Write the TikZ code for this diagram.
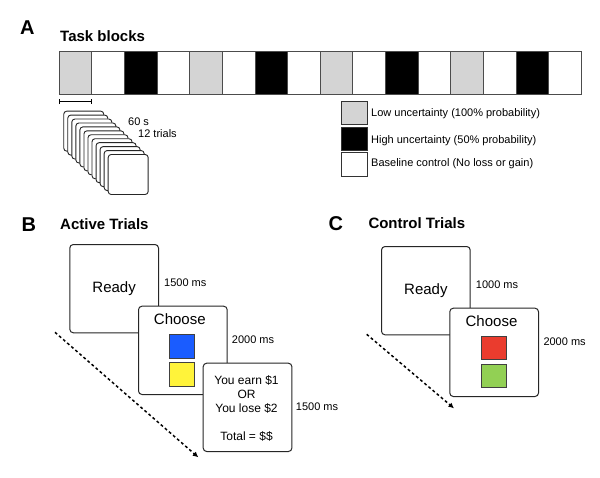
\documentclass[tikz,border=0pt]{standalone}
\usepackage{fontspec}
\setmainfont{Liberation Sans}
\usetikzlibrary{arrows.meta}
\definecolor{lowgray}{RGB}{212,212,212}
\definecolor{sqblue}{RGB}{26,92,255}
\definecolor{sqyellow}{RGB}{255,243,58}
\definecolor{sqred}{RGB}{234,60,46}
\definecolor{sqgreen}{RGB}{146,208,84}
\begin{document}
\begin{tikzpicture}[x=1pt,y=-1pt,
  panellabel/.style={anchor=base west,inner sep=0,font=\fontsize{20}{24}\bfseries\selectfont},
  paneltitle/.style={anchor=base west,inner sep=0,font=\fontsize{15}{18}\bfseries\selectfont},
  small/.style={anchor=west,inner sep=0,font=\fontsize{11}{13}\selectfont},
  blockbox/.style={draw=black!70,line width=0.9pt,anchor=north west,minimum width=32.64pt,minimum height=43.3pt,inner sep=0},
  legbox/.style={draw=black!80,line width=0.9pt,anchor=north west,minimum width=25.5pt,minimum height=23.4pt,inner sep=0},
  card/.style={draw=black!85,line width=0.9pt,rounded corners=3pt,fill=white,anchor=north west,minimum width=40pt,minimum height=40pt,inner sep=0},
  screen/.style={draw=black!85,line width=1pt,rounded corners=3.5pt,fill=white,anchor=north west,minimum width=88.7pt,minimum height=88.3pt,inner sep=0,font=\fontsize{15}{18}\selectfont},
  bigtext/.style={inner sep=0,font=\fontsize{15}{18}\selectfont},
  colsq/.style={draw=black!75,line width=0.8pt,anchor=north west,minimum width=25pt,minimum height=23.2pt,inner sep=0},
  timearrow/.style={line width=1.5pt,dash pattern=on 2.8pt off 2.6pt,-{Latex[length=5.5pt,width=5.5pt]}}
]
\useasboundingbox (0,0) rectangle (600,477);

% ---------- Panel A ----------
\node[panellabel] (labA) at (20,34) {A};
\node[paneltitle] (titA) at (60,41) {Task blocks};

\foreach \i/\c in {0/lowgray,1/white,2/black,3/white,4/lowgray,5/white,6/black,7/white,
                   8/lowgray,9/white,10/black,11/white,12/lowgray,13/white,14/black,15/white}{
  \node[blockbox,fill=\c] (blk\i) at ({58.7+32.64*\i},50.7) {};
}

\coordinate (sbL) at (58.7,101.5);
\coordinate (sbR) at (92,101.5);
\draw[line width=0.9pt,{Bar[width=5pt]}-{Bar[width=5pt]}] (sbL) -- (sbR);

\foreach \i in {0,...,11}{
  \node[card] (card\i) at ({63.3+4.04*\i},{110.7+3.94*\i}) {};
}
\node[small] (t60) at (128,122) {60 s};
\node[small] (t12) at (138,134) {12 trials};

\node[legbox,fill=lowgray] (legLow) at (341,101) {};
\node[legbox,fill=black] (legHigh) at (341,126.7) {};
\node[legbox,fill=white] (legBase) at (341,152.4) {};
\node[small] (legLowT) at (371,113.3) {Low uncertainty (100\% probability)};
\node[small] (legHighT) at (371,140.3) {High uncertainty (50\% probability)};
\node[small] (legBaseT) at (371,163.3) {Baseline control (No loss or gain)};

% ---------- Panel B ----------
\node[panellabel] (labB) at (21.5,231) {B};
\node[paneltitle] (titB) at (60,229) {Active Trials};

\node[screen] (readyB) at (69.3,244) {Ready};
\node[small] (tB1) at (164,282.7) {1500 ms};

\node[screen] (chooseB) at (138,305.7) {};
\node[bigtext] (chooseBT) at (179.8,319.5) {Choose};
\node[colsq,fill=sqblue] (blueSq) at (169.3,334.3) {};
\node[colsq,fill=sqyellow] (yellowSq) at (169.3,362.4) {};
\node[small] (tB2) at (231.7,340) {2000 ms};

\node[screen] (fbB) at (202.7,362.7) {};
\node[inner sep=0,align=center,font=\fontsize{12}{14.1}\selectfont] (fbBT) at (246.5,408.5)
  {You earn \$1\\OR\\You lose \$2\\[14.1pt]Total = \$\$};
\node[small] (tB3) at (295.7,406.7) {1500 ms};

\coordinate (arB1) at (55,332.3);
\coordinate (arB2) at (198.3,457.3);
\draw[timearrow] (arB1) -- (arB2);

% ---------- Panel C ----------
\node[panellabel] (labC) at (328.5,230) {C};
\node[paneltitle] (titC) at (368.3,228) {Control Trials};

\node[screen] (readyC) at (381,246) {Ready};
\node[small] (tC1) at (475.7,285) {1000 ms};

\node[screen] (chooseC) at (449.3,307.7) {};
\node[bigtext] (chooseCT) at (491.5,321) {Choose};
\node[colsq,fill=sqred] (redSq) at (481,336) {};
\node[colsq,fill=sqgreen] (greenSq) at (481,364.2) {};
\node[small] (tC2) at (543.3,341.7) {2000 ms};

\coordinate (arC1) at (366.7,334.3);
\coordinate (arC2) at (454,408.3);
\draw[timearrow] (arC1) -- (arC2);
\end{tikzpicture}
\end{document}
